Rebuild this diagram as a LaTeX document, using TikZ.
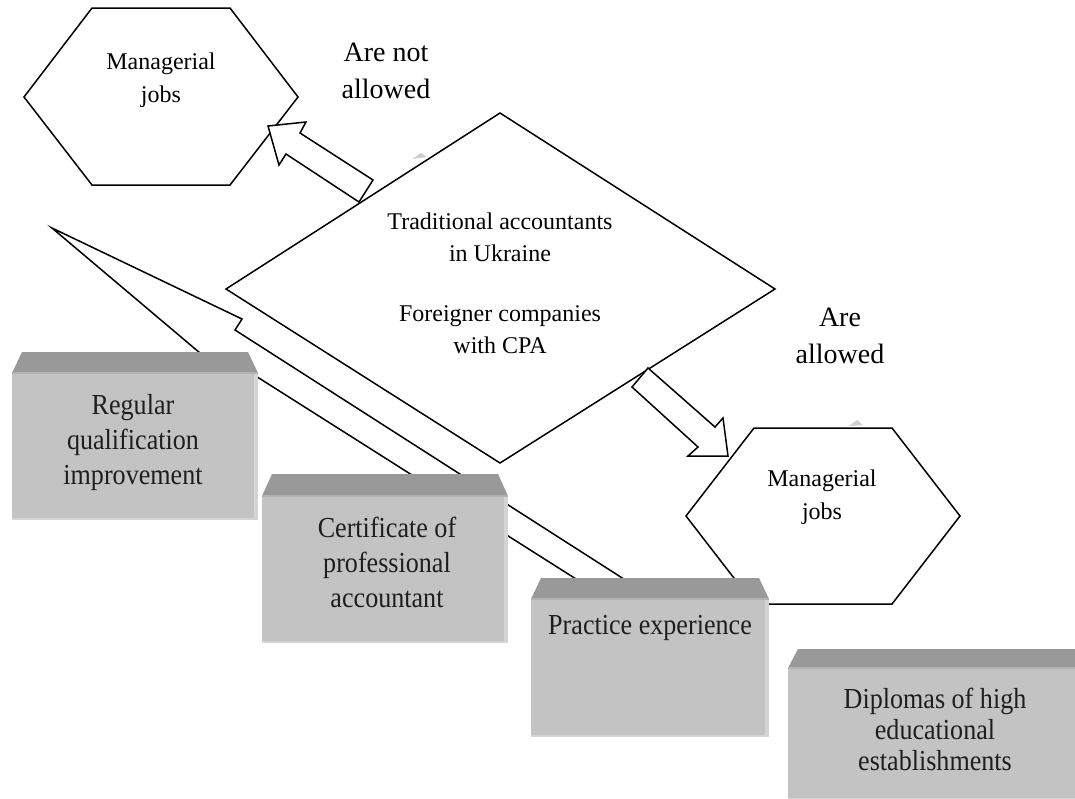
\documentclass[tikz,border=0pt]{standalone}
\usepackage{fontspec}
\setmainfont{Liberation Serif}
\newfontfamily\boxfont[FakeStretch=0.9]{Liberation Serif}
\definecolor{bandgray}{HTML}{999999}
\definecolor{bodygray}{HTML}{C3C3C3}
\definecolor{edgegray}{HTML}{D4D4D4}
\definecolor{seamgray}{HTML}{B2B2B2}
\definecolor{textgray}{HTML}{1E1E1E}
\definecolor{markgray}{HTML}{CDCDCD}
\tikzset{
  outline/.style={draw=black, line width=1.5pt, fill=white, line join=miter},
  smalltext/.style={font=\fontsize{24}{33}\selectfont, align=center, inner sep=0pt},
  labeltext/.style={font=\fontsize{28}{37}\selectfont, align=center, inner sep=0pt},
  boxtext/.style={font=\boxfont\fontsize{29}{35}\selectfont, text=textgray, align=center, inner sep=0pt},
  bandfill/.style={fill=bandgray},
  bodyfill/.style={fill=bodygray},
  edgefill/.style={fill=edgegray},
  seam/.style={draw=seamgray, line width=1.2pt},
  greymark/.style={fill=markgray}
}
\newcommand{\grayblock}[5]{%
  \path[bandfill] (#1,#4) -- (#1+10,#3) -- (#2-10,#3) -- (#2,#4) -- cycle;
  \path[bodyfill] (#1,#4) rectangle (#2,#5);
  \path[edgefill] (#2-4,#4) rectangle (#2,#5);
  \path[edgefill] (#1,#5-2) rectangle (#2,#5);
  \path[seam] (#1,#4) -- (#2,#4);
}
\begin{document}
\begin{tikzpicture}[x=1pt,y=-1pt]
\useasboundingbox (0,0) rectangle (1075,798);

% long thin block arrow (behind the boxes)
\coordinate (la-tip) at (52,228);
\coordinate (la-hu) at (242,319);
\coordinate (la-nu) at (235,330);
\coordinate (la-tu) at (680,615);
\coordinate (la-tl) at (666,636);
\coordinate (la-nl) at (221,354);
\coordinate (la-hl) at (213,364);
\draw[outline] (la-tip) -- (la-hu) -- (la-nu) -- (la-tu) -- (la-tl) -- (la-nl) -- (la-hl) -- cycle;

% hexagon 1
\coordinate (h1-a) at (92,8);
\coordinate (h1-b) at (230,8);
\coordinate (h1-c) at (298,97);
\coordinate (h1-d) at (230,185);
\coordinate (h1-e) at (92,185);
\coordinate (h1-f) at (24,97);
\draw[outline] (h1-a) -- (h1-b) -- (h1-c) -- (h1-d) -- (h1-e) -- (h1-f) -- cycle;
\node[smalltext] (mj1) at (161,80) {Managerial\\jobs};

% hexagon 2
\coordinate (h2-a) at (754,428);
\coordinate (h2-b) at (892,428);
\coordinate (h2-c) at (960,516);
\coordinate (h2-d) at (892,604);
\coordinate (h2-e) at (754,604);
\coordinate (h2-f) at (686,516);
\draw[outline] (h2-a) -- (h2-b) -- (h2-c) -- (h2-d) -- (h2-e) -- (h2-f) -- cycle;
\node[smalltext] (mj2) at (822,497) {Managerial\\jobs};

% diamond
\coordinate (d-t) at (500,113);
\coordinate (d-r) at (775,289);
\coordinate (d-b) at (500,463);
\coordinate (d-l) at (226,289);
\draw[outline] (d-t) -- (d-r) -- (d-b) -- (d-l) -- cycle;
\node[smalltext, font=\fontsize{24}{32}\selectfont] (acc) at (500,283)
  {Traditional accountants\\in Ukraine\\[28pt]Foreigner companies\\with CPA};

% block arrow: not allowed
\coordinate (ua-tip) at (268,126);
\coordinate (ua-hr) at (306,122);
\coordinate (ua-ir) at (300,133);
\coordinate (ua-tr) at (373,180);
\coordinate (ua-tl) at (359,202);
\coordinate (ua-il) at (286,154);
\coordinate (ua-hl) at (279,165);
\draw[outline] (ua-tip) -- (ua-hr) -- (ua-ir) -- (ua-tr) -- (ua-tl) -- (ua-il) -- (ua-hl) -- cycle;

% block arrow: allowed
\coordinate (da-tip) at (728,456);
\coordinate (da-hr) at (723,418);
\coordinate (da-ir) at (715,427);
\coordinate (da-tr) at (648,368);
\coordinate (da-tl) at (632,387);
\coordinate (da-il) at (698,447);
\coordinate (da-hl) at (688,456);
\draw[outline] (da-tip) -- (da-hr) -- (da-ir) -- (da-tr) -- (da-tl) -- (da-il) -- (da-hl) -- cycle;

% labels
\node[labeltext] (notallowed) at (386,71) {Are not\\allowed};
\node[labeltext] (allowed) at (840,336) {Are\\allowed};

% small grey marks
\path[greymark] (412,159) -- (421,153) -- (427,157) -- cycle;
\path[greymark] (849,426) -- (857,420) -- (863,425) -- cycle;

% grey blocks
\grayblock{12}{258}{352}{373}{520}
\node[boxtext] (reg) at (133,443) {Regular\\qualification\\improvement};
\grayblock{262}{508}{474}{496}{643}
\node[boxtext] (cert) at (387,562) {Certificate of\\professional\\accountant};
\grayblock{531}{769}{578}{599}{737}
\node[boxtext] (prac) at (650,628) {Practice experience};
\grayblock{788}{1090}{649}{668}{800}
\node[boxtext, font=\boxfont\fontsize{29}{31}\selectfont] (dipl) at (935,729) {Diplomas of high\\educational\\establishments};
\end{tikzpicture}
\end{document}
